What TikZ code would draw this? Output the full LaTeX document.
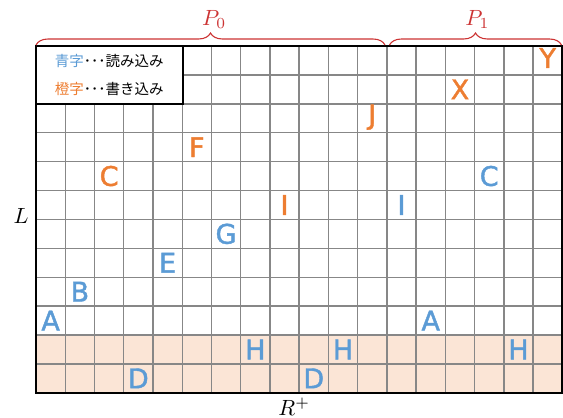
\documentclass[tikz,border=0pt]{standalone}
\usepackage{fontspec}
\newfontfamily\jpfont{Noto Sans CJK JP}
\newfontfamily\letfont[FakeBold=1.6]{DejaVu Sans}
\usetikzlibrary{decorations.pathreplacing}
\definecolor{rblue}{HTML}{5B9BD5}
\definecolor{rorange}{HTML}{ED7D31}
\definecolor{rpeach}{HTML}{FBE5D6}
\definecolor{rred}{HTML}{CC3333}
\definecolor{rgrid}{HTML}{878787}
\tikzset{
  letterbase/.style={font=\letfont\fontsize{27}{27}\selectfont, inner sep=0pt, text height=19.7pt, text depth=0pt},
  lblue/.style={letterbase, text=rblue},
  lorange/.style={letterbase, text=rorange},
  gridline/.style={draw=rgrid, line width=1.4pt},
  frameline/.style={draw=black, line width=2pt},
  bracestyle/.style={draw=rred, line width=1.1pt, decorate, decoration={brace, amplitude=12pt}},
  mathlabel/.style={font=\fontsize{10}{12}\selectfont, scale=2.2, inner sep=0pt},
  legendtext/.style={font=\jpfont\fontsize{14.5}{16}\selectfont, inner sep=0pt}
}
\begin{document}
\begin{tikzpicture}[x=1pt,y=-1pt]
\useasboundingbox (0,0) rectangle (563,418);
% shaded rows
\fill[rpeach] (36,335) rectangle (562.3,392.7);
% vertical grid lines
\foreach \i in {1,...,4} \draw[gridline] ({36+29.24*\i},104) -- ({36+29.24*\i},392.7);
\foreach \i in {5,...,17} \draw[gridline] ({36+29.24*\i},46) -- ({36+29.24*\i},392.7);
% horizontal grid lines
\draw[gridline] (182.5,75) -- (562.3,75);
\foreach \j in {2,...,11} \draw[gridline] (36,{46+28.9*\j}) -- (562.3,{46+28.9*\j});
% legend box and frame
\draw[frameline] (36,46) rectangle (182.5,104);
\draw[frameline] (36,46) rectangle (562.3,392.7);
% legend
\node[legendtext] (leg1) at (109.3,61) {\textcolor{rblue}{青字}･･･読み込み};
\node[legendtext] (leg2) at (109.3,89.3) {\textcolor{rorange}{橙字}･･･書き込み};
% braces
\coordinate (b0s) at (36,45);
\coordinate (b0e) at (385,45);
\coordinate (b1s) at (389.5,45);
\coordinate (b1e) at (561.5,45);
\draw[bracestyle] (b0s) -- (b0e);
\draw[bracestyle] (b1s) -- (b1e);
\node[mathlabel, text=rred, anchor=base west] (p0) at (201.7,25) {$P_0$};
\node[mathlabel, text=rred, anchor=base west] (p1) at (465,25) {$P_1$};
\node[mathlabel, anchor=base] (lL) at (21,223) {$L$};
\node[mathlabel, anchor=base west] (lR) at (278,415) {$R^+$};
% letters
\node[lorange] (Y) at (547.70,58) {Y};
\node[lorange] (X) at (459.98,89.35) {X};
\node[lorange] (J) at (372.26,114.5) {J};
\node[lorange] (F) at (196.82,147.15) {F};
\node[lorange] (Co) at (109.10,176.05) {C};
\node[lblue] (Cb) at (489.22,176.05) {C};
\node[lorange] (Io) at (284.54,204.95) {I};
\node[lblue] (Ib) at (401.50,204.95) {I};
\node[lblue] (G) at (226.06,233.85) {G};
\node[lblue] (E) at (167.58,262.75) {E};
\node[lblue] (B) at (79.86,291.65) {B};
\node[lblue] (A1) at (50.62,320.55) {A};
\node[lblue] (A2) at (430.74,320.55) {A};
\node[lblue] (H1) at (255.30,349.45) {H};
\node[lblue] (H2) at (343.02,349.45) {H};
\node[lblue] (H3) at (518.46,349.45) {H};
\node[lblue] (D1) at (138.34,378.35) {D};
\node[lblue] (D2) at (313.78,378.35) {D};
\end{tikzpicture}
\end{document}
